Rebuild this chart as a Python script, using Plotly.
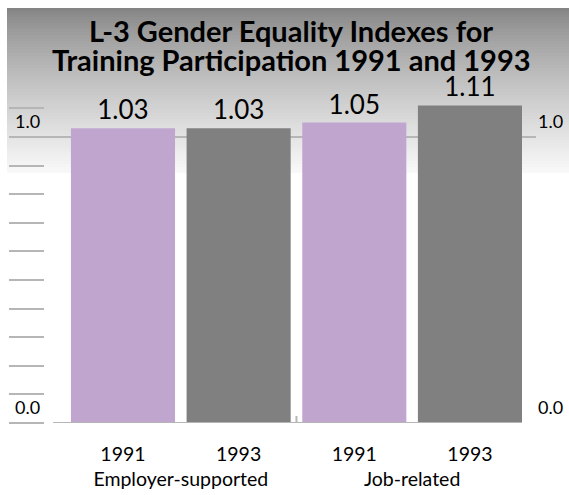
import plotly.graph_objects as go

# ---- data ----
groups = ["Employer-supported", "Employer-supported", "Job-related", "Job-related"]
years = ["1991", "1993", "1991", "1993"]
index_values = [1.03, 1.03, 1.05, 1.11]
y_tick_values = [0.0, 0.1, 0.2, 0.3, 0.4, 0.5, 0.6, 0.7, 0.8, 0.9, 1.0, 1.1]
y_labels = {0.0: "0.0", 1.0: "1.0"}
PARITY = 1.0
BASELINE = 0.0
title_lines = ["L-3 Gender Equality Indexes for", "Training Participation 1991 and 1993"]

# ---- style ----
W, H = 569, 495
ML, MR, MT, MB = 44, 33, 94, 55
PW, PH = W - ML - MR, H - MT - MB
BASE_PX = 423  # pixel row of the value axis zero
year_colors = {"1991": "#c0a6cf", "1993": "#808080"}
tick_col = "#b6b6b6"
FONT = "Lato"
X_RANGE = [-0.605, 3.45]


def px_to_paper_x(px):
    return (px - ML) / PW


def px_to_paper_y(py):
    return (H - MB - py) / PH


fig = go.Figure()
fig.add_trace(go.Bar(
    x=[groups, years], y=index_values,
    marker=dict(color=[year_colors[y] for y in years], line=dict(width=0)),
    text=[f"{v:.2f}" for v in index_values], textposition="outside",
    textfont=dict(family=FONT, size=26, color="black"),
    cliponaxis=False, hoverinfo="skip", showlegend=False,
))

# gradient header background (decoration)
shapes = []
top_px, bot_px, step = 8, 173, 3
py = top_px
while py < bot_px:
    t = (py - top_px) / (bot_px - top_px)
    g = int(round(132 + 118 * t ** 0.8))
    shapes.append(dict(type="rect", xref="paper", yref="paper",
                       x0=px_to_paper_x(7), x1=px_to_paper_x(W + 2),
                       y0=px_to_paper_y(py + step), y1=px_to_paper_y(py),
                       fillcolor=f"rgb({g},{g},{g})", line=dict(width=0), layer="below"))
    py += step
# parity reference line at 1.0
shapes.append(dict(type="line", xref="paper", yref="y", x0=0, x1=1, y0=PARITY, y1=PARITY,
                   line=dict(color=tick_col, width=2), layer="below"))
# baseline along the category axis
shapes.append(dict(type="line", xref="x domain", yref="y", x0=0, x1=1,
                   y0=BASELINE, y1=BASELINE, line=dict(color=tick_col, width=2), layer="above"))
# small divider tick between the two groups (category boundary)
n_first = groups.count(groups[0])
group_boundary = n_first - 0.5
shapes.append(dict(type="line", xref="x", yref="y", x0=group_boundary, x1=group_boundary,
                   ysizemode="pixel", yanchor=BASELINE, y0=0, y1=7,
                   line=dict(color=tick_col, width=2), layer="above"))

annotations = []
for val, lab in y_labels.items():
    for xp, anc, xs in ((0, "right", -2), (1, "left", 0)):
        annotations.append(dict(text=lab, xref="paper", yref="y", x=xp, y=val, xanchor=anc,
                                yanchor="bottom", yshift=3, xshift=xs, showarrow=False,
                                font=dict(family=FONT, size=18, color="black")))

# title as two centred lines
for i, line in enumerate(title_lines):
    annotations.append(dict(text=f"<b>{line}</b>", xref="paper", yref="paper",
                            x=px_to_paper_x(291), y=px_to_paper_y(30.5 + 29 * i),
                            xanchor="center", yanchor="middle", showarrow=False,
                            font=dict(family=FONT, size=29, color="black")))

yax = dict(range=[0, 1.15], tickvals=y_tick_values, ticks="outside", ticklen=35,
           tickwidth=2, tickcolor=tick_col, showticklabels=False, showgrid=False,
           showline=False, zeroline=False, anchor="free", fixedrange=True,
           domain=[px_to_paper_y(BASE_PX), 1])

x_domain = [px_to_paper_x(53), px_to_paper_x(522)]

fig.update_layout(
    width=W, height=H, autosize=False,
    margin=dict(l=ML, r=MR, t=MT, b=MB, pad=0),
    paper_bgcolor="white", plot_bgcolor="rgba(0,0,0,0)",
    bargap=0.1,
    xaxis=dict(type="multicategory", domain=x_domain,
               range=X_RANGE, showline=False, ticks="",
               showdividers=False, showgrid=False, zeroline=False,
               tickfont=dict(family=FONT, size=19.5, color="black"),
               anchor="free", position=0, automargin=False),
    yaxis=dict(position=0, side="left", automargin=False, **yax),
    yaxis2=dict(position=1, side="right", overlaying="y", automargin=False, **yax),
    shapes=shapes, annotations=annotations,
    font=dict(family=FONT, color="black"),
)

fig.write_html("out.html", config={"displayModeBar": False},
               post_script="document.body.style.margin='0';")
